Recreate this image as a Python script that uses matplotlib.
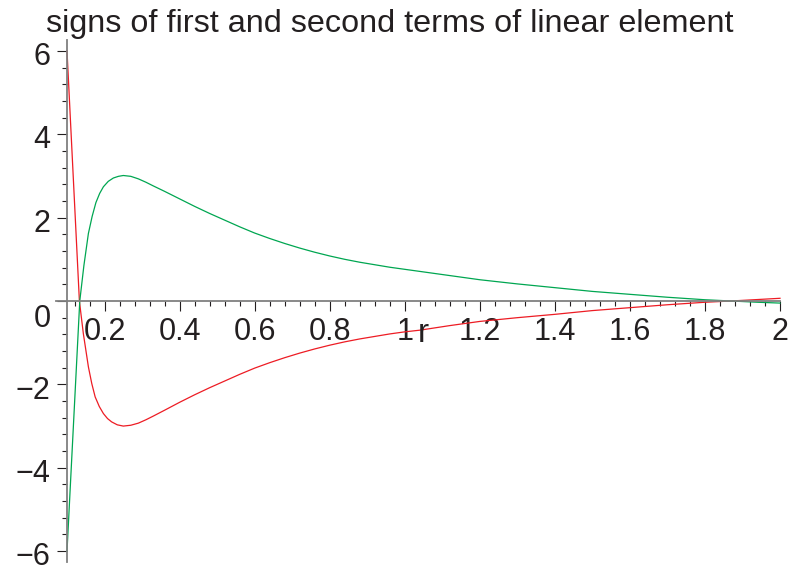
import numpy as np
import matplotlib
matplotlib.use("Agg")
import matplotlib.pyplot as plt
from matplotlib.transforms import offset_copy

plt.rcParams['font.family'] = ['Liberation Sans', 'DejaVu Sans']

# values
r_red = [0.100, 0.133, 0.1435, 0.157, 0.166, 0.175, 0.186, 0.197, 0.208, 0.219,
         0.234, 0.250, 0.270, 0.290, 0.310, 0.330, 0.360, 0.400, 0.440, 0.480,
         0.520, 0.560, 0.600, 0.640, 0.680, 0.720, 0.760, 0.800, 0.840, 0.880,
         0.920, 0.960, 1.000, 1.040, 1.120, 1.200, 1.300, 1.400, 1.500, 1.600,
         1.700, 1.800, 1.870, 1.940, 2.000]
red_vals = [6.00, 0.00, -0.78, -1.58, -1.98, -2.30, -2.53, -2.70, -2.82, -2.90,
            -2.97, -3.00, -2.98, -2.93, -2.85, -2.76, -2.62, -2.43, -2.25, -2.08,
            -1.92, -1.76, -1.61, -1.48, -1.36, -1.25, -1.15, -1.06, -0.98, -0.91,
            -0.85, -0.79, -0.74, -0.70, -0.59, -0.49, -0.40, -0.32, -0.23, -0.16,
            -0.09, -0.03, 0.00, 0.035, 0.065]

r_green = [0.100, 0.134, 0.145, 0.157, 0.167, 0.177, 0.187, 0.197, 0.210, 0.2235,
           0.237, 0.250, 0.270, 0.290, 0.310, 0.330, 0.360, 0.400, 0.440, 0.480,
           0.520, 0.560, 0.600, 0.640, 0.680, 0.720, 0.760, 0.800, 0.840, 0.880,
           0.920, 0.960, 1.000, 1.040, 1.120, 1.200, 1.300, 1.400, 1.500, 1.600,
           1.700, 1.800, 1.870, 1.940, 2.000]
green_vals = [-6.00, 0.00, 0.85, 1.62, 2.03, 2.36, 2.58, 2.74, 2.87, 2.95,
              2.99, 3.01, 2.99, 2.93, 2.85, 2.76, 2.63, 2.45, 2.27, 2.10,
              1.94, 1.78, 1.63, 1.50, 1.38, 1.27, 1.17, 1.08, 1.00, 0.93,
              0.87, 0.81, 0.76, 0.71, 0.61, 0.51, 0.41, 0.32, 0.23, 0.16,
              0.09, 0.03, 0.00, -0.03, -0.05]

x_ticks = [0.2, 0.4, 0.6, 0.8, 1.0, 1.2, 1.4, 1.6, 1.8, 2.0]
x_labels = ['0.2', '0.4', '0.6', '0.8', '1', '1.2', '1.4', '1.6', '1.8', '2']
y_ticks = [-6, -4, -2, 0, 2, 4, 6]
y_labels = ['\u22126', '\u22124', '\u22122', '0', '2', '4', '6']

title = 'signs of first and second terms of linear element'
txt_col = '#231f20'

W, H = 791, 568
fig = plt.figure(figsize=(W / 100, H / 100), dpi=100)
ax = fig.add_axes([55.75 / W, 1 - 562 / H, (780 - 55.75) / W, (562 - 40) / H])

ax.plot(r_red, red_vals, color='#ed1c24', lw=0.9, clip_on=False)
ax.plot(r_green, green_vals, color='#00a651', lw=0.9, clip_on=False)

ax.set_xlim(0.07, 2.0)
ax.set_ylim(-6.26, 6.26)

# maple style axes, y axis sits at r=0.1
for s in ['top', 'right']:
    ax.spines[s].set_visible(False)
ax.spines['left'].set_position(('data', 0.1))
ax.spines['bottom'].set_position(('data', 0))
for s in ['left', 'bottom']:
    ax.spines[s].set_color('#808080')
    ax.spines[s].set_linewidth(1.3)

ax.set_xticks(x_ticks)
ax.set_xticklabels(x_labels)
ax.set_xticks([v for v in np.arange(0.12, 1.97, 0.04) if abs(v / 0.2 - round(v / 0.2)) > 0.01], minor=True)
ax.set_yticks(y_ticks)
ax.set_yticklabels([])
ax.set_yticks([v for v in np.arange(-6.0, 6.01, 0.4) if abs(v / 2 - round(v / 2)) > 0.01], minor=True)

ax.tick_params(which='major', direction='out', length=7.2, width=0.8, color=txt_col)
ax.tick_params(which='minor', direction='out', length=3.6, width=0.8, color=txt_col)
ax.tick_params(axis='x', which='major', labelsize=22, labelcolor=txt_col, pad=4.5)

# y labels by hand so the 0 can sit lower like maple does
for v, lab in zip(y_ticks, y_labels):
    dy = -25.5 if v == 0 else -14.2
    tr = offset_copy(ax.transData, fig=fig, x=-16.5, y=dy, units='dots')
    ax.text(0.1, v, lab, transform=tr, ha='right', va='baseline', fontsize=22, color=txt_col)

# axis name r next to the 1
tr = offset_copy(ax.transData, fig=fig, x=13.3, y=-40.5, units='dots')
ax.text(1.0, 0, 'r', transform=tr, ha='left', va='baseline', fontsize=24, color=txt_col)

fig.text(390 / W, 1 - 31.7 / H, title, ha='center', va='baseline', fontsize=23.3, color=txt_col)

fig.savefig('out.png', dpi=100)
